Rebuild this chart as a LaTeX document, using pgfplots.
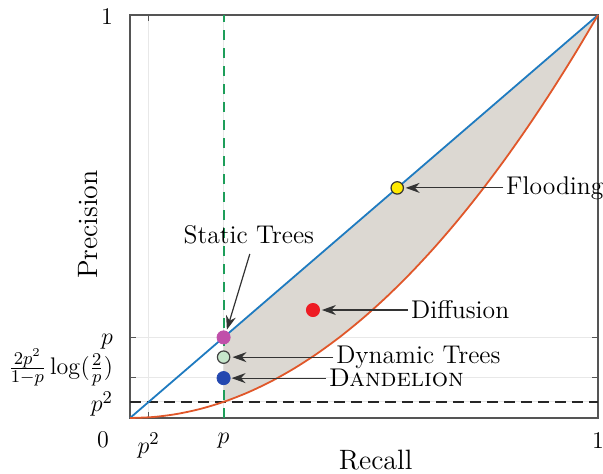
\documentclass[border=0pt]{standalone}
\usepackage{pgfplots}
\pgfplotsset{compat=1.18}
\usetikzlibrary{arrows.meta}
\definecolor{lineBlue}{HTML}{1F7BC0}
\definecolor{lineOrange}{HTML}{E0572A}
\definecolor{greenDash}{HTML}{1E9E5A}
\definecolor{shadeColor}{HTML}{DCD8D2}
\definecolor{axisGray}{HTML}{555555}
\definecolor{gridGray}{HTML}{E8E8E8}
\definecolor{dotPink}{HTML}{C04FAA}
\definecolor{dotMint}{HTML}{C6E6CB}
\definecolor{dotBlue}{HTML}{2448B0}
\definecolor{dotRed}{HTML}{EE1C24}
\definecolor{dotYellow}{HTML}{FFEA00}
\definecolor{arrowGray}{HTML}{333333}
\newcommand{\annfont}{\fontsize{12.8}{15}\selectfont}
% tick label with its baseline placed at #1 relative to the tick
\newcommand{\tl}[2]{\raisebox{#1}[0pt][0pt]{#2}}
\begin{document}
\begin{tikzpicture}[
  ann/.style={font=\annfont,anchor=west,inner sep=0pt},
  arr/.style={-{Stealth[length=7pt,width=5pt]},draw=arrowGray,fill=arrowGray,line width=0.6pt}
]
\begin{axis}[
  name=ax,
  scale only axis,
  width=234pt,
  height=201.5pt,
  xmin=0, xmax=1, ymin=0, ymax=1,
  xtick={0.04,0.2,1},
  xticklabels={$p^2$,$p$,$1$},
  ytick={0.04,0.1,0.2,1},
  yticklabels={\tl{-5pt}{$p^2$},\tl{1.5pt}{$\frac{2p^2}{1-p}\log(\frac{2}{p})$},\tl{-3.5pt}{$p$},\tl{-4.5pt}{$1$}},
  tick label style={font=\fontsize{13}{15}\selectfont},
  xticklabel style={yshift=-4pt},
  yticklabel style={xshift=-5pt},
  axis line style={draw=axisGray,line width=0.6pt},
  major tick style={draw=axisGray,line width=0.6pt},
  major tick length=3pt,
  grid=major,
  grid style={draw=gridGray,line width=0.5pt},
  xlabel={Recall},
  ylabel={Precision},
  label style={font=\fontsize{14}{16}\selectfont},
  xlabel style={at={(rel axis cs:0.525,-0.105)},anchor=center},
  ylabel style={at={(rel axis cs:-0.09,0.48)},anchor=center},
  clip=false
]
% shaded region between y=x and the lower curve, right of x=p
\addplot[fill=shadeColor,draw=none] coordinates {
  (0.2,0.2) (1,1) (0.95,0.9025) (0.9,0.81) (0.85,0.7225) (0.8,0.64)
  (0.75,0.5625) (0.7,0.49) (0.65,0.4225) (0.6,0.36) (0.55,0.3025)
  (0.5,0.25) (0.45,0.2025) (0.4,0.16) (0.35,0.1225) (0.3,0.09)
  (0.25,0.0625) (0.2,0.04)} -- cycle;
% p^2 level
\addplot[black!85,dash pattern=on 5.5pt off 3pt,line width=0.8pt] coordinates {(0,0.04) (1,0.04)};
% upper bound
\addplot[lineBlue,line width=0.9pt] coordinates {(0,0) (1,1)};
% lower bound
\addplot[lineOrange,line width=0.9pt,smooth] coordinates {
  (0,0) (0.05,0.0025) (0.1,0.01) (0.15,0.0225) (0.2,0.04) (0.25,0.0625)
  (0.3,0.09) (0.35,0.1225) (0.4,0.16) (0.45,0.2025) (0.5,0.25)
  (0.55,0.3025) (0.6,0.36) (0.65,0.4225) (0.7,0.49) (0.75,0.5625)
  (0.8,0.64) (0.85,0.7225) (0.9,0.81) (0.95,0.9025) (1,1)};
% x = p
\addplot[greenDash,line width=1pt,dash pattern=on 5pt off 4pt] coordinates {(0.2,0) (0.2,1)};
% methods
\addplot[only marks,mark=*,mark size=3.3pt,draw=dotPink,fill=dotPink] coordinates {(0.2,0.2)};
\addplot[only marks,mark=*,mark size=3.1pt,draw=black!75,fill=dotMint,line width=0.6pt] coordinates {(0.2,0.151)};
\addplot[only marks,mark=*,mark size=3.3pt,draw=dotBlue,fill=dotBlue] coordinates {(0.2,0.099)};
\addplot[only marks,mark=*,mark size=3.3pt,draw=dotRed,fill=dotRed] coordinates {(0.391,0.268)};
\addplot[only marks,mark=*,mark size=3.1pt,draw=black!80,fill=dotYellow,line width=0.6pt] coordinates {(0.571,0.571)};
% annotations
\draw[arr] (axis cs:0.797,0.571) -- (axis cs:0.589,0.571);
\node[ann] at (axis cs:0.803,0.571) {Flooding};
\draw[arr] (axis cs:0.594,0.268) -- (axis cs:0.41,0.268);
\node[ann] at (axis cs:0.600,0.268) {Diffusion};
\draw[arr] (axis cs:0.434,0.151) -- (axis cs:0.219,0.151);
\node[ann] at (axis cs:0.440,0.151) {Dynamic Trees};
\draw[arr] (axis cs:0.418,0.099) -- (axis cs:0.217,0.099);
\node[ann] at (axis cs:0.424,0.099) {\textsc{Dandelion}};
\draw[arr] (axis cs:0.256,0.407) -- (axis cs:0.207,0.219);
\node[font=\annfont,anchor=center] at (axis cs:0.254,0.455) {Static Trees};
\node[font=\fontsize{13}{15}\selectfont] at ([xshift=-13.5pt,yshift=-11pt]rel axis cs:0,0) {$0$};
\end{axis}
\pgfresetboundingbox
\path[use as bounding box] ([xshift=-65pt,yshift=-27.5pt]ax.south west) rectangle ([xshift=2.5pt,yshift=7.5pt]ax.north east);
\end{tikzpicture}
\end{document}
